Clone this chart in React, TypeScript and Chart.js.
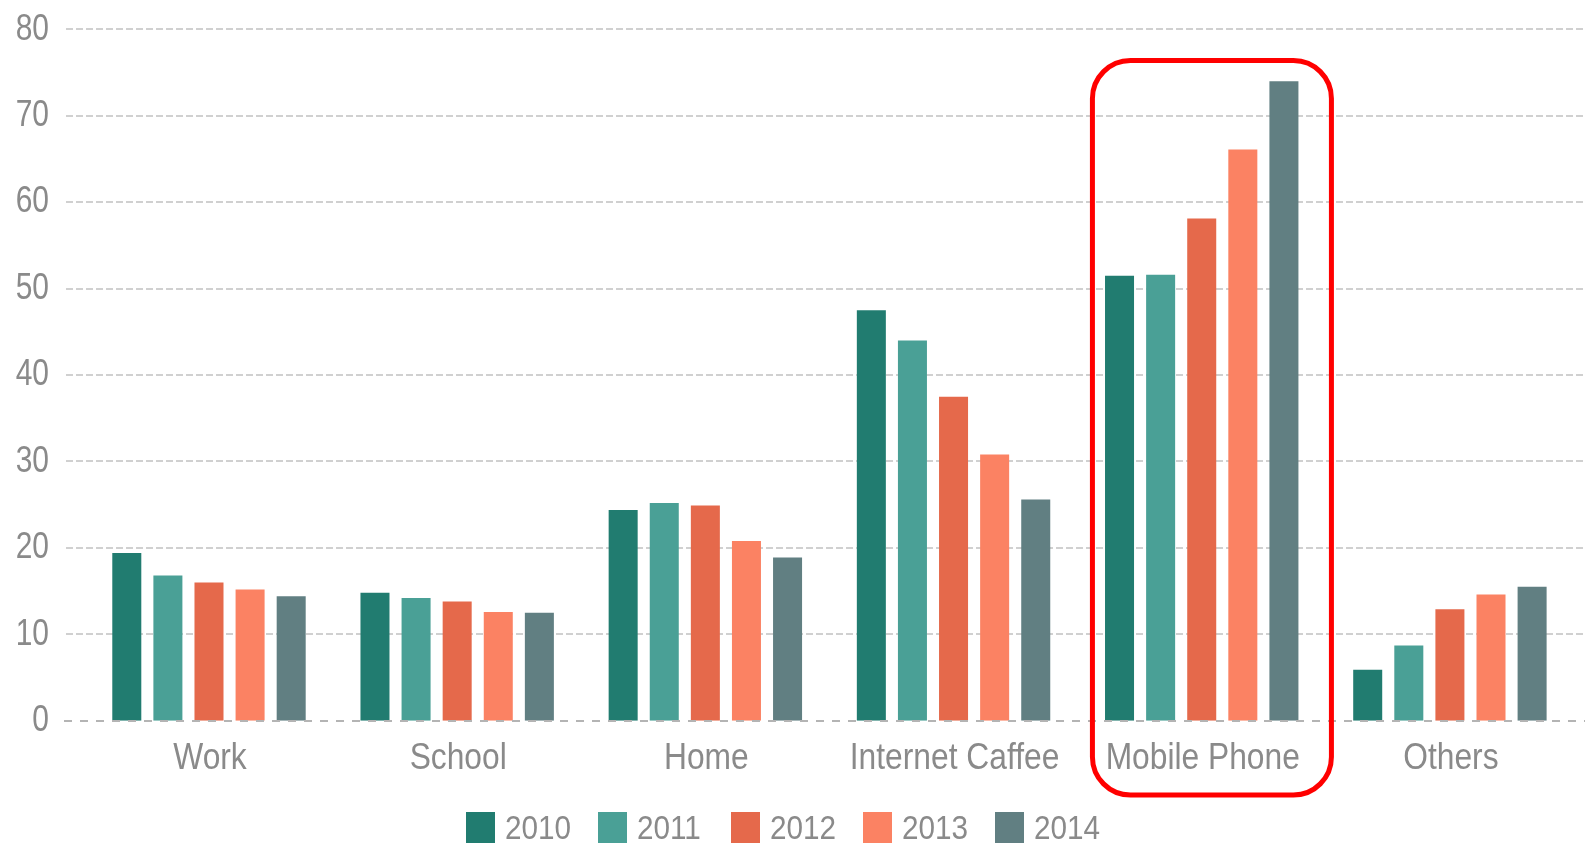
import React, { useEffect, useRef } from "react";
import { Chart, registerables } from "chart.js";

Chart.register(...registerables);

const categories = ["Work", "School", "Home", "Internet Caffee", "Mobile Phone", "Others"];
const years = ["2010", "2011", "2012", "2013", "2014"];
const colors = ["#217c70", "#4aa096", "#e5694b", "#fb8263", "#617f82"];
const values2010 = [19.4, 14.8, 24.4, 47.5, 51.5, 5.9];
const values2011 = [16.8, 14.2, 25.2, 44.0, 51.6, 8.7];
const values2012 = [16.0, 13.8, 24.9, 37.5, 58.1, 12.9];
const values2013 = [15.2, 12.6, 20.8, 30.8, 66.1, 14.6];
const values2014 = [14.4, 12.5, 18.9, 25.6, 74.0, 15.5];
const seriesValues = [values2010, values2011, values2012, values2013, values2014];
const yTicks = [0, 10, 20, 30, 40, 50, 60, 70, 80];
const highlightIndex = 4;

const FONT = "'Liberation Sans', Arial, sans-serif";
const TEXT_COLOR = "#8a8a8a";

function drawSqueezedText(ctx: any, text: string, x: number, y: number, align: "left" | "center" | "right", squeeze: number) {
  const w = ctx.measureText(text).width * squeeze;
  let left = x;
  if (align === "center") left = x - w / 2;
  else if (align === "right") left = x - w;
  ctx.save();
  ctx.translate(left, y);
  ctx.scale(squeeze, 1);
  ctx.textAlign = "left";
  ctx.fillText(text, 0, 0);
  ctx.restore();
}

const gridPlugin = {
  id: "customGrid",
  beforeDatasetsDraw(chart: any) {
    const { ctx, scales } = chart;
    ctx.save();
    ctx.lineWidth = 2;
    ctx.strokeStyle = "#d0d0d0";
    ctx.setLineDash([7, 3]);
    yTicks.forEach((v) => {
      if (v === 0) return;
      const y = Math.round(scales.y.getPixelForValue(v));
      ctx.beginPath();
      ctx.moveTo(66, y);
      ctx.lineTo(chart.width, y);
      ctx.stroke();
    });
    ctx.restore();
  },
  afterDatasetsDraw(chart: any) {
    const { ctx, scales } = chart;
    ctx.save();
    ctx.lineWidth = 2;
    ctx.strokeStyle = "#b4b4b4";
    ctx.setLineDash([8, 8]);
    const y = Math.round(scales.y.getPixelForValue(0));
    ctx.beginPath();
    ctx.moveTo(64, y);
    ctx.lineTo(chart.width, y);
    ctx.stroke();
    ctx.restore();
  },
  afterDraw(chart: any) {
    const { ctx, scales } = chart;
    ctx.save();
    ctx.fillStyle = TEXT_COLOR;
    ctx.font = `37px ${FONT}`;
    ctx.textBaseline = "middle";
    yTicks.forEach((v) => {
      const y = scales.y.getPixelForValue(v);
      drawSqueezedText(ctx, String(v), 49, y, "right", 0.81);
    });
    ctx.font = `36.5px ${FONT}`;
    ctx.textBaseline = "alphabetic";
    categories.forEach((c, i) => {
      const x = scales.x.getPixelForValue(i);
      drawSqueezedText(ctx, c, x + 1, 769, "center", 0.87);
    });
    ctx.restore();

    const c = scales.x.getPixelForValue(highlightIndex);
    const left = c - 109.3;
    const right = c + 129.7;
    const top = 60.5;
    const bottom = 795;
    ctx.save();
    ctx.lineWidth = 5;
    ctx.strokeStyle = "#ff0000";
    ctx.setLineDash([]);
    ctx.beginPath();
    ctx.roundRect(left, top, right - left, bottom - top, 38);
    ctx.stroke();
    ctx.restore();
  },
};

export default function App() {
  const ref = useRef<HTMLCanvasElement | null>(null);
  useEffect(() => {
    if (!ref.current) return;
    const chart = new Chart(ref.current, {
      type: "bar",
      data: {
        labels: categories,
        datasets: years.map((yr, i) => ({
          label: yr,
          data: seriesValues[i],
          backgroundColor: colors[i],
          borderWidth: 0,
          categoryPercentage: 0.828,
          barPercentage: 0.706,
        })),
      },
      options: {
        animation: false,
        responsive: true,
        maintainAspectRatio: false,
        layout: { padding: { top: 29.3, left: 84.9, right: 11, bottom: 124.2 } },
        plugins: { legend: { display: false }, tooltip: { enabled: false } },
        scales: {
          x: {
            grid: { display: false, drawTicks: false },
            border: { display: false },
            ticks: { display: false },
          },
          y: {
            min: 0,
            max: 80,
            afterBuildTicks: (axis: any) => {
              axis.ticks = yTicks.map((v) => ({ value: v }));
            },
            grid: { display: false, drawTicks: false },
            border: { display: false },
            ticks: { display: false },
          },
        },
      },
      plugins: [gridPlugin],
    });
    return () => chart.destroy();
  }, []);

  return (
    <div style={{ position: "fixed", left: 0, top: 0, width: 1585, height: 845, background: "#fff", overflow: "hidden" }}>
      <canvas ref={ref} style={{ position: "absolute", left: 0, top: 0 }} />
      <div style={{ position: "absolute", left: 0, top: 812, height: 31, fontFamily: FONT, fontSize: 33, color: TEXT_COLOR, lineHeight: 1 }}>
        {years.map((yr, i) => (
          <div key={yr} style={{ position: "absolute", left: 466 + i * 132.3, top: 0, height: 31, display: "flex", alignItems: "center", whiteSpace: "nowrap" }}>
            <span style={{ display: "inline-block", width: 29, height: 31, background: colors[i], marginRight: 10 }} />
            <span style={{ display: "inline-block", transform: "scaleX(0.9)", transformOrigin: "left center" }}>{yr}</span>
          </div>
        ))}
      </div>
    </div>
  );
}
